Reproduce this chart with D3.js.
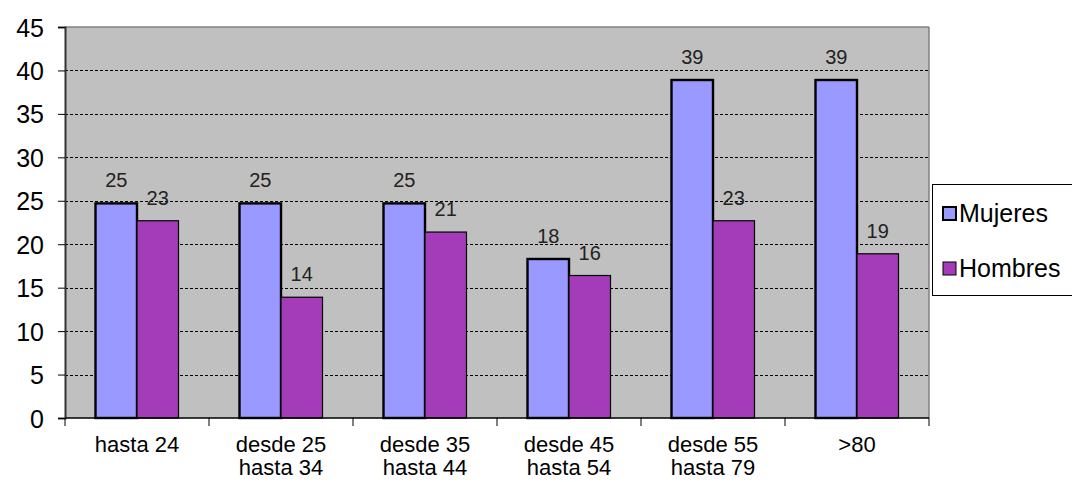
<!DOCTYPE html>
<html><head><meta charset="utf-8">
<script src="https://cdn.jsdelivr.net/npm/d3@7"></script>
<style>body{margin:0;background:#fff;}svg{display:block;font-family:Arial,"Liberation Sans",sans-serif;}</style>
</head><body><svg id="c" width="1072" height="482"></svg>
<script>
const categories = [["hasta 24"],["desde 25","hasta 34"],["desde 35","hasta 44"],["desde 45","hasta 54"],["desde 55","hasta 79"],[">80"]];
const seriesNames = ["Mujeres","Hombres"];
const mujeres = [24.7, 24.7, 24.7, 18.3, 38.9, 38.9];
const hombres = [22.7, 13.9, 21.4, 16.4, 22.7, 18.9];
const yTicks = [0,5,10,15,20,25,30,35,40,45];
const colors = ["#9999FF","#A43CBA"];

const svg = d3.select("#c");
const L=65, R=929, T=27, B=418;
const FF = "Arial, 'Liberation Sans', sans-serif";
const x = d3.scaleBand().domain(d3.range(categories.length)).range([L,R]).paddingInner(0).paddingOuter(0);
const y = d3.scaleLinear().domain([0,45]).range([B,T]);
const xs = d3.scaleBand().domain([0,1]).range([0,x.bandwidth()]).paddingInner(0).paddingOuter(0.735);

svg.append("rect").attr("x",L).attr("y",T).attr("width",R-L).attr("height",B-T).attr("fill","#C0C0C0");
svg.append("line").attr("x1",L).attr("x2",R).attr("y1",T).attr("y2",T).attr("stroke","#808080").attr("stroke-width",1.5);
svg.append("line").attr("x1",R).attr("x2",R).attr("y1",T).attr("y2",B).attr("stroke","#808080").attr("stroke-width",1.5);

svg.append("g").selectAll("line").data(yTicks.filter(d=>d>0&&d<45)).join("line")
  .attr("x1",L).attr("x2",R).attr("y1",d=>Math.round(y(d))+0.5).attr("y2",d=>Math.round(y(d))+0.5)
  .attr("stroke","#000").attr("stroke-width",1).attr("stroke-dasharray","3,2");

const series = [mujeres, hombres];
series.forEach((vals,si)=>{
  svg.append("g").selectAll("rect").data(vals).join("rect")
    .attr("x",(d,i)=>x(i)+xs(si)).attr("width",xs.bandwidth())
    .attr("y",d=>y(d)).attr("height",d=>B-y(d))
    .attr("fill",colors[si]).attr("stroke","#000").attr("stroke-width",si===0?2.4:1.2);
});
series.forEach((vals,si)=>{
  svg.append("g").selectAll("text").data(vals).join("text")
    .attr("x",(d,i)=>x(i)+xs(si)+xs.bandwidth()/2).attr("y",d=>y(d)-16)
    .attr("text-anchor","middle").attr("font-size",20).attr("fill","#222").attr("font-family",FF)
    .text(d=>Math.round(d));
});

// axes
const ya = d3.axisLeft(y).tickValues(yTicks).tickSize(7).tickFormat(d3.format("d"));
const gy = svg.append("g").attr("transform",`translate(${L},0)`).call(ya);
gy.select(".domain").attr("stroke","#333").attr("stroke-width",2);
gy.selectAll(".tick line").attr("stroke","#000");
gy.selectAll(".tick text").attr("font-size",25).attr("fill","#000").attr("x",-21).attr("dy","0.36em").attr("font-family",FF);

const gx = svg.append("g").attr("transform",`translate(0,${B})`);
gx.append("line").attr("x1",L).attr("x2",R).attr("y1",0).attr("y2",0).attr("stroke","#000").attr("stroke-width",1.5);
gx.selectAll("line.t").data(d3.range(categories.length+1)).join("line").attr("class","t")
  .attr("x1",i=>L+i*x.bandwidth()).attr("x2",i=>L+i*x.bandwidth()).attr("y1",0).attr("y2",8).attr("stroke","#000");
categories.forEach((lines,i)=>{
  const t = gx.append("text").attr("x",x(i)+x.bandwidth()/2).attr("y",34).attr("text-anchor","middle").attr("font-size",22).attr("fill","#000").attr("font-family",FF);
  lines.forEach((ln,j)=>t.append("tspan").attr("x",x(i)+x.bandwidth()/2).attr("dy",j===0?0:23).text(ln));
});

// legend
const lg = svg.append("g");
lg.append("rect").attr("x",932.5).attr("y",184.5).attr("width",145).attr("height",111).attr("fill","#fff").attr("stroke","#000").attr("stroke-width",1);
seriesNames.forEach((n,i)=>{
  const yy = 207 + i*55;
  lg.append("rect").attr("x",943).attr("y",yy).attr("width",13).attr("height",13).attr("fill",colors[i]).attr("stroke","#000").attr("stroke-width",i===0?2:1);
  lg.append("text").attr("x",959).attr("y",yy+15).attr("font-size",25).attr("fill","#000").attr("font-family",FF).text(n);
});
</script></body></html>
